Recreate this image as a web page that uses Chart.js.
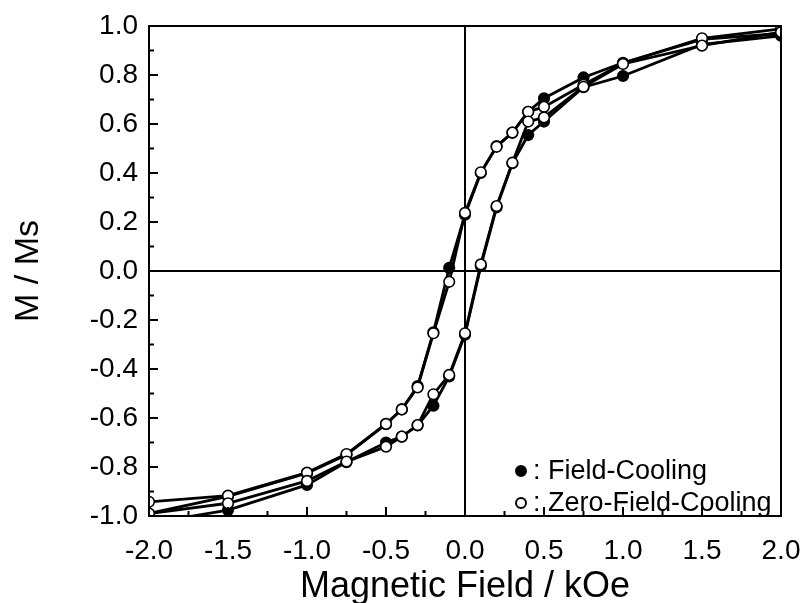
<!DOCTYPE html>
<html><head><meta charset="utf-8">
<script src="https://cdn.jsdelivr.net/npm/chart.js@4.4.0/dist/chart.umd.min.js"></script>
<style>html,body{margin:0;padding:0;background:#fff;}#wrap{width:805px;height:603px;}</style>
</head><body><div id="wrap"><canvas id="c" width="805" height="603"></canvas></div>
<script>
// Field values (kOe) for descending and ascending branches
const fieldDown = [2.0, 1.5, 1.0, 0.75, 0.5, 0.4, 0.3, 0.2, 0.1, 0.0, -0.1, -0.2, -0.3, -0.4, -0.5, -0.75, -1.0, -1.5, -2.0];
const fieldUp   = [-2.0, -1.5, -1.0, -0.75, -0.5, -0.4, -0.3, -0.2, -0.1, 0.0, 0.1, 0.2, 0.3, 0.4, 0.5, 0.75, 1.0, 1.5, 2.0];
// Field-Cooling M/Ms
const fcDown  = [0.97, 0.945, 0.85, 0.79, 0.705, 0.65, 0.565, 0.51, 0.40, 0.23, 0.013, -0.25, -0.47, -0.565, -0.625, -0.75, -0.825, -0.92, -0.99];
const fcUp    = [-1.03, -0.976, -0.873, -0.78, -0.70, -0.676, -0.63, -0.55, -0.43, -0.26, 0.02, 0.26, 0.44, 0.555, 0.61, 0.75, 0.796, 0.925, 0.96];
// Zero-Field-Cooling M/Ms
const zfcDown = [0.988, 0.95, 0.848, 0.76, 0.67, 0.65, 0.565, 0.507, 0.403, 0.237, -0.044, -0.254, -0.475, -0.565, -0.624, -0.747, -0.823, -0.917, -0.942];
const zfcUp   = [-0.99, -0.948, -0.857, -0.778, -0.717, -0.676, -0.629, -0.503, -0.424, -0.254, 0.027, 0.265, 0.442, 0.61, 0.627, 0.752, 0.845, 0.92, 0.975];

const xTicks = [-2.0, -1.5, -1.0, -0.5, 0.0, 0.5, 1.0, 1.5, 2.0];
const yTicks = [-1.0, -0.8, -0.6, -0.4, -0.2, 0.0, 0.2, 0.4, 0.6, 0.8, 1.0];
const seriesNames = ['Field-Cooling', 'Zero-Field-Cooling'];
const xTitle = 'Magnetic Field / kOe';
const yTitle = 'M / Ms';

function loop(xd, yd, xu, yu) {
  const pts = [];
  xd.forEach((x, i) => pts.push({x: x, y: yd[i]}));
  xu.forEach((x, i) => pts.push({x: x, y: yu[i]}));
  return pts;
}

const FONT = 'Arial, "Liberation Sans", Helvetica, sans-serif';

const decor = {
  id: 'decor',
  beforeDatasetsDraw(chart) {
    const {ctx, chartArea: a, scales: {x, y}} = chart;
    ctx.save();
    ctx.strokeStyle = '#000';
    ctx.lineWidth = 2;
    const x0 = Math.round(x.getPixelForValue(0));
    const y0 = Math.round(y.getPixelForValue(0));
    ctx.beginPath();
    ctx.moveTo(x0, a.top); ctx.lineTo(x0, a.bottom);
    ctx.moveTo(a.left, y0); ctx.lineTo(a.right, y0);
    ctx.stroke();
    ctx.restore();
  },
  afterDatasetsDraw(chart) {
    const {ctx, chartArea: a, scales: {x, y}} = chart;
    ctx.save();
    ctx.strokeStyle = '#000';
    ctx.lineWidth = 2;
    ctx.strokeRect(a.left, a.top, a.right - a.left, a.bottom - a.top);
    ctx.beginPath();
    for (let i = 0; i < xTicks.length; i++) {
      const px = x.getPixelForValue(xTicks[i]);
      ctx.moveTo(px, a.bottom); ctx.lineTo(px, a.bottom - 9);
      if (i < xTicks.length - 1) {
        const pm = x.getPixelForValue((xTicks[i] + xTicks[i + 1]) / 2);
        ctx.moveTo(pm, a.bottom); ctx.lineTo(pm, a.bottom - 5);
      }
    }
    for (let i = 0; i < yTicks.length; i++) {
      const py = y.getPixelForValue(yTicks[i]);
      ctx.moveTo(a.left, py); ctx.lineTo(a.left + 9, py);
      if (i < yTicks.length - 1) {
        const pm = y.getPixelForValue((yTicks[i] + yTicks[i + 1]) / 2);
        ctx.moveTo(a.left, pm); ctx.lineTo(a.left + 5, pm);
      }
    }
    ctx.stroke();
    ctx.restore();
  },
  afterDraw(chart) {
    const {ctx} = chart;
    ctx.save();
    ctx.font = '27px ' + FONT;
    ctx.textBaseline = 'middle';
    ctx.textAlign = 'left';
    const rows = [{y: 471, fill: '#000'}, {y: 503, fill: '#fff'}];
    rows.forEach((r, i) => {
      ctx.beginPath();
      ctx.arc(521, r.y, 5, 0, Math.PI * 2);
      ctx.fillStyle = r.fill; ctx.fill();
      ctx.lineWidth = 2; ctx.strokeStyle = '#000'; ctx.stroke();
      ctx.fillStyle = '#000';
      ctx.fillText(': ' + seriesNames[i], 533, r.y + 1);
    });
    ctx.restore();
  }
};

new Chart(document.getElementById('c'), {
  type: 'scatter',
  data: {
    datasets: [
      {
        label: seriesNames[1],
        data: loop(fieldDown, zfcDown, fieldUp, zfcUp),
        showLine: true,
        borderColor: '#000', borderWidth: 2.8,
        pointRadius: 5.3, pointBorderWidth: 1.6,
        pointBackgroundColor: '#fff', pointBorderColor: '#000',
        order: 0
      },
      {
        label: seriesNames[0],
        data: loop(fieldDown, fcDown, fieldUp, fcUp),
        showLine: true,
        borderColor: '#000', borderWidth: 2.8,
        pointRadius: 5.3, pointBorderWidth: 1.6,
        pointBackgroundColor: '#000', pointBorderColor: '#000',
        order: 1
      }
    ]
  },
  options: {
    responsive: false,
    animation: false,
    devicePixelRatio: 1,
    layout: {padding: {top: 26, right: 24, left: 0, bottom: 0}},
    plugins: {legend: {display: false}, tooltip: {enabled: false}},
    scales: {
      x: {
        type: 'linear', min: -2, max: 2,
        afterBuildTicks(s) { s.ticks = xTicks.map(v => ({value: v})); },
        afterFit(s) { s.height = 87; s.paddingLeft = 0; s.paddingRight = 0; },
        ticks: {callback: v => Number(v).toFixed(1), color: '#000', font: {size: 28, family: FONT}, padding: 18, maxRotation: 0, autoSkip: false},
        grid: {display: false, drawTicks: false},
        border: {display: false},
        title: {display: true, text: xTitle, color: '#000', font: {size: 36, family: FONT, lineHeight: 0.9}, padding: {top: 0, bottom: 0}}
      },
      y: {
        type: 'linear', min: -1, max: 1,
        afterBuildTicks(s) { s.ticks = yTicks.map(v => ({value: v})); },
        afterFit(s) { s.width = 149; s.paddingTop = 0; s.paddingBottom = 0; },
        ticks: {callback: v => Number(v).toFixed(1), color: '#000', font: {size: 28, family: FONT}, padding: 11, autoSkip: false},
        grid: {display: false, drawTicks: false},
        border: {display: false},
        title: {display: true, text: yTitle, color: '#000', font: {size: 34, family: FONT}, padding: {top: 8, bottom: 0}}
      }
    }
  },
  plugins: [decor]
});
</script>
</body></html>
